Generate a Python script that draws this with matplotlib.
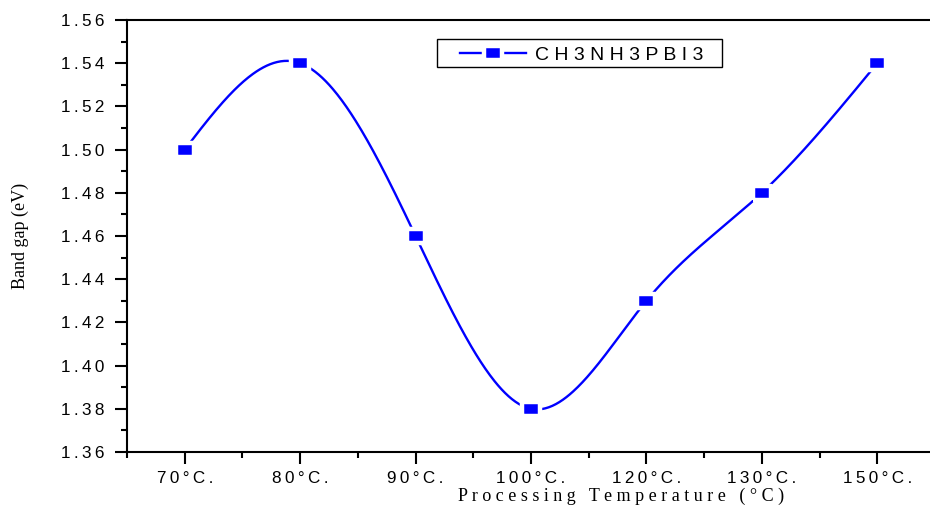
import numpy as np
import matplotlib
matplotlib.use("Agg")
import matplotlib.pyplot as plt
from matplotlib.markers import MarkerStyle
from matplotlib.lines import Line2D
from matplotlib.patches import Rectangle

categories = ["70°C.", "80°C.", "90°C.", "100°C.", "120°C.", "130°C.", "150°C."]
band_gap = [1.50, 1.54, 1.46, 1.38, 1.43, 1.48, 1.54]
y_ticks = [1.36, 1.38, 1.40, 1.42, 1.44, 1.46, 1.48, 1.50, 1.52, 1.54, 1.56]
series_name = "CH3NH3PBI3"
x_label = "Processing Temperature (°C)"
y_label = "Band gap (eV)"

SANS = ["Liberation Sans", "DejaVu Sans"]
SERIF = ["Liberation Serif", "DejaVu Serif"]
TS = "\u2009"
W, H = 930, 512


def spaced(s, sep=TS):
    return sep.join(list(s))


def natural_spline(x, y, xs):
    x = np.asarray(x, float)
    y = np.asarray(y, float)
    n = len(x)
    h = np.diff(x)
    A = np.zeros((n, n))
    b = np.zeros(n)
    A[0, 0] = 1
    A[-1, -1] = 1
    for i in range(1, n - 1):
        A[i, i - 1] = h[i - 1]
        A[i, i] = 2 * (h[i - 1] + h[i])
        A[i, i + 1] = h[i]
        b[i] = 3 * ((y[i + 1] - y[i]) / h[i] - (y[i] - y[i - 1]) / h[i - 1])
    c = np.linalg.solve(A, b)
    out = np.empty_like(xs)
    for k, xv in enumerate(xs):
        i = min(max(np.searchsorted(x, xv) - 1, 0), n - 2)
        dx = xv - x[i]
        bi = (y[i + 1] - y[i]) / h[i] - h[i] * (2 * c[i] + c[i + 1]) / 3
        di = (c[i + 1] - c[i]) / (3 * h[i])
        out[k] = y[i] + bi * dx + c[i] * dx ** 2 + di * dx ** 3
    return out


def fx(px):
    return px / W


def fy(py):
    return 1 - py / H


fig = plt.figure(figsize=(9.30, 5.12), dpi=100)
ax = fig.add_axes([fx(127), 60 / H, (935 - 127) / W, 432 / H])

xpos = np.arange(len(categories))
xs = np.linspace(0, len(categories) - 1, 600)
ys = natural_spline(xpos, band_gap, xs)

blue = "#0000ff"
verts = [(-1, -0.75), (1, -0.75), (1, 0.75), (-1, 0.75), (-1, -0.75)]
mk = MarkerStyle(verts, joinstyle="miter")
MS, MEW, LW = 13.2, 3.2, 1.7

ax.plot(xs, ys, color=blue, lw=LW, zorder=2)
ax.plot(xpos, band_gap, ls="none", marker=mk, ms=MS, mfc=blue,
        mec="white", mew=MEW, zorder=3)

ax.set_xlim(-0.5, 6.5)
ax.set_ylim(1.36, 1.56)

for side in ["left", "bottom", "top"]:
    ax.spines[side].set_linewidth(1.5)
ax.spines["right"].set_visible(False)

ax.set_xticks(xpos)
ax.set_xticks(np.arange(-0.5, 6.6, 1.0), minor=True)
ax.set_xticklabels([spaced(c) for c in categories], fontfamily=SANS, fontsize=12.3)
ax.set_yticks(y_ticks)
ax.set_yticks(np.arange(1.37, 1.56, 0.02), minor=True)
ax.set_yticklabels([spaced(f"{v:.2f}") for v in y_ticks], fontfamily=SANS, fontsize=12.3)
ax.tick_params(axis="both", which="major", direction="out", length=8.5, width=1.5)
ax.tick_params(axis="both", which="minor", direction="out", length=4.5, width=1.5)
ax.tick_params(axis="y", which="major", pad=8)
ax.tick_params(axis="x", which="major", pad=5)
ax.tick_params(top=False, right=False, which="both")

fig.text(fx(621), fy(496), "   ".join(" ".join(w) for w in x_label.split(" ")),
         ha="center", va="center", fontfamily=SERIF, fontsize=13)
fig.text(fx(20), fy(236), y_label, rotation=90, ha="center", va="center",
         fontfamily=SERIF, fontsize=13)

# legend box drawn by hand (figure coordinates)
fig.patches.append(Rectangle((fx(437), fy(67)), (722 - 437) / W, 28 / H,
                             transform=fig.transFigure, fill=True, facecolor="white",
                             edgecolor="black", lw=1.0, zorder=5))
ly = fy(53)
fig.add_artist(Line2D([fx(460), fx(526)], [ly, ly], color=blue, lw=LW,
                      transform=fig.transFigure, zorder=6))
fig.add_artist(Line2D([fx(493)], [ly], ls="none", marker=mk, ms=MS, mfc=blue,
                      mec="white", mew=MEW, transform=fig.transFigure, zorder=7))
fig.text(fx(535), ly, " ".join(series_name), ha="left", va="center_baseline",
         fontfamily=SANS, fontsize=14, zorder=7)

fig.savefig("out.png", dpi=100)
